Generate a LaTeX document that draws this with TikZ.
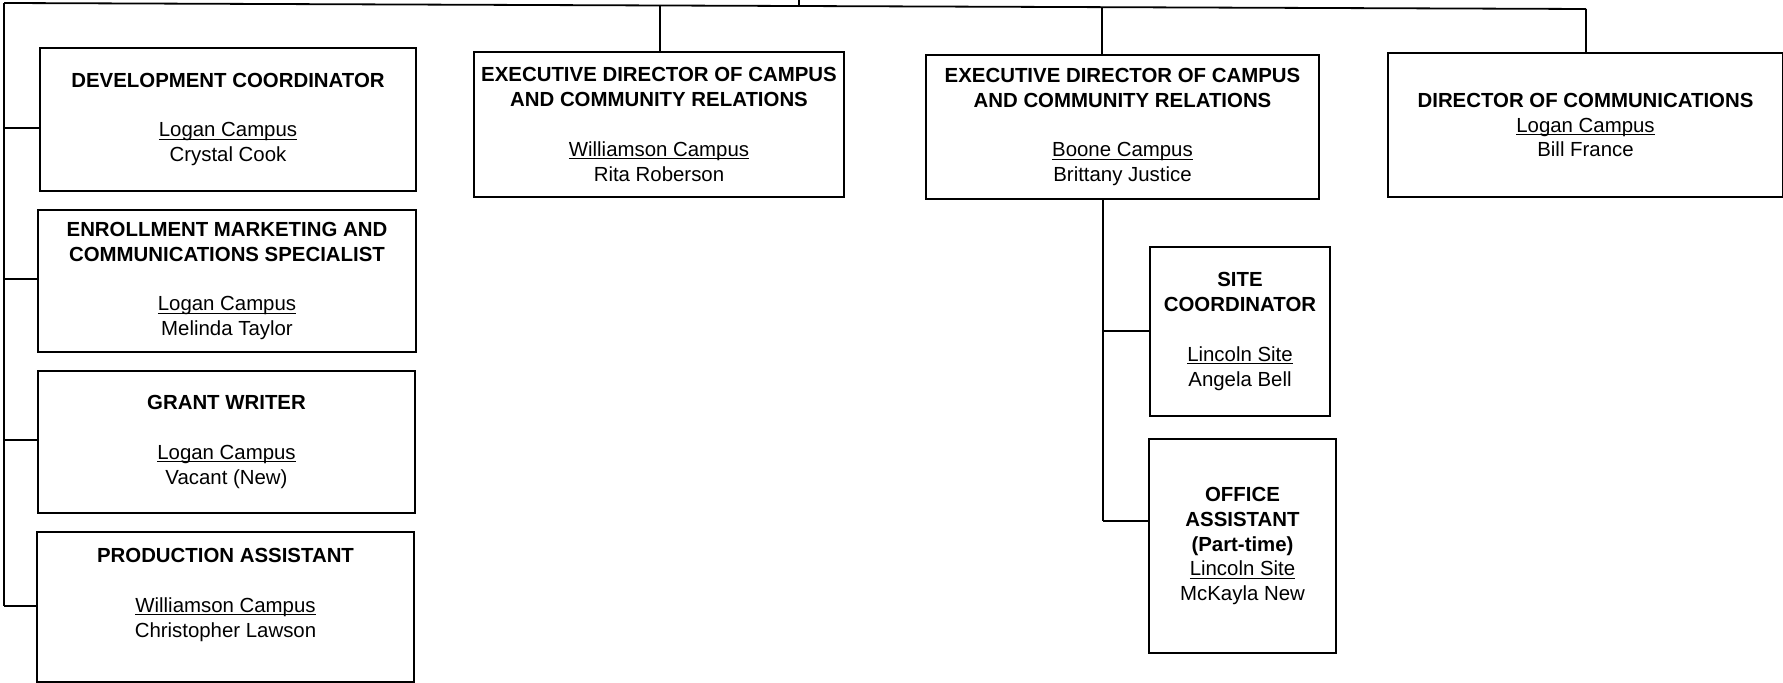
\documentclass[tikz,border=0pt]{standalone}
\usepackage{fontspec}
\setmainfont{Liberation Sans}
\usetikzlibrary{calc}
\tikzset{
  box/.style={draw=black, line width=0.9pt, rectangle, inner sep=1pt, align=center,
    font=\fontsize{10.2}{12.4}\selectfont},
  txt/.style={inner sep=0pt, align=center, font=\fontsize{10.2}{12.4}\selectfont},
  link/.style={draw=black, line width=0.9pt},
}
\newcommand{\ttl}[1]{\textbf{#1}}
\newcommand{\ulin}[1]{\setbox0\hbox{#1}\rlap{\rule[-1.4pt]{\wd0}{0.55pt}}\box0}
\begin{document}
\begin{tikzpicture}[x=0.5pt,y=-0.5pt]
\useasboundingbox (0,0) rectangle (1783,683);
\fill[white] (0,0) rectangle (1783,683);

% left column
\node[box, minimum width=188pt, minimum height=71.5pt] (dev) at (228,119.5)
  {\ttl{DEVELOPMENT COORDINATOR}\\[12.4pt]\ulin{Logan Campus}\\Crystal Cook};
\node[box, minimum width=189pt, minimum height=71pt] (enr) at (227,281)
  {\ttl{ENROLLMENT MARKETING AND}\\\ttl{COMMUNICATIONS SPECIALIST}\\[12.4pt]\ulin{Logan Campus}\\Melinda Taylor};
\node[box, minimum width=188.5pt, minimum height=71pt] (grant) at (226.5,442)
  {\ttl{GRANT WRITER}\\[12.4pt]\ulin{Logan Campus}\\Vacant (New)};
\node[box, minimum width=188.5pt, minimum height=75pt] (prod) at (225.5,607) {};
\node[txt] (prodtext) at (225.5,595)
  {\ttl{PRODUCTION ASSISTANT}\\[12.4pt]\ulin{Williamson Campus}\\Christopher Lawson};

% top row
\node[box, minimum width=185pt, minimum height=72.5pt] (will) at (659,124.5)
  {\ttl{EXECUTIVE DIRECTOR OF CAMPUS}\\\ttl{AND COMMUNITY RELATIONS}\\[12.4pt]\ulin{Williamson Campus}\\Rita Roberson};
\node[box, minimum width=196.5pt, minimum height=72pt] (boone) at (1122.5,127)
  {\ttl{EXECUTIVE DIRECTOR OF CAMPUS}\\\ttl{AND COMMUNITY RELATIONS}\\[12.4pt]\ulin{Boone Campus}\\Brittany Justice};
\node[box, minimum width=197.5pt, minimum height=72pt] (dircomm) at (1585.5,125)
  {\ttl{DIRECTOR OF COMMUNICATIONS}\\\ulin{Logan Campus}\\Bill France};

% Boone subordinates
\node[box, minimum width=90pt, minimum height=84.5pt] (site) at (1240,331.5)
  {\ttl{SITE}\\\ttl{COORDINATOR}\\[12.4pt]\ulin{Lincoln Site}\\Angela Bell};
\node[box, minimum width=93.5pt, minimum height=107pt] (office) at (1242.5,546)
  {\ttl{OFFICE}\\\ttl{ASSISTANT}\\\ttl{(Part-time)}\\\ulin{Lincoln Site}\\McKayla New};

% parent box (mostly above the picture)
\coordinate (pbr) at (799,0);
\coordinate (pbb) at (799,5);
\draw[link] (pbr) -- (pbb);

% bus
\coordinate (busL) at (4,3);
\coordinate (busR) at (1586,9);
\draw[link] (busL) -- (busR);

% left trunk
\coordinate (tDev) at (4,128);
\coordinate (tEnr) at (4,279);
\coordinate (tGrant) at (4,440);
\coordinate (tProd) at (4,606);
\draw[link] (busL) -- (tProd);
\draw[link] (tDev) -- (tDev -| dev.west);
\draw[link] (tEnr) -- (tEnr -| enr.west);
\draw[link] (tGrant) -- (tGrant -| grant.west);
\draw[link] (tProd) -- (tProd -| prod.west);

% top drops
\coordinate (dWill) at (660,6.5);
\coordinate (dBoone) at (1102,8);
\draw[link] (dWill) -- (dWill |- will.north);
\draw[link] (dBoone) -- (dBoone |- boone.north);
\draw[link] (busR) -- (busR |- dircomm.north);

% Boone subtree
\coordinate (bTop) at (1103,199);
\coordinate (bSite) at (1103,331);
\coordinate (bOff) at (1103,521);
\draw[link] (bTop) -- (bOff);
\draw[link] (bSite) -- (bSite -| site.west);
\draw[link] (bOff) -- (bOff -| office.west);
\end{tikzpicture}
\end{document}
